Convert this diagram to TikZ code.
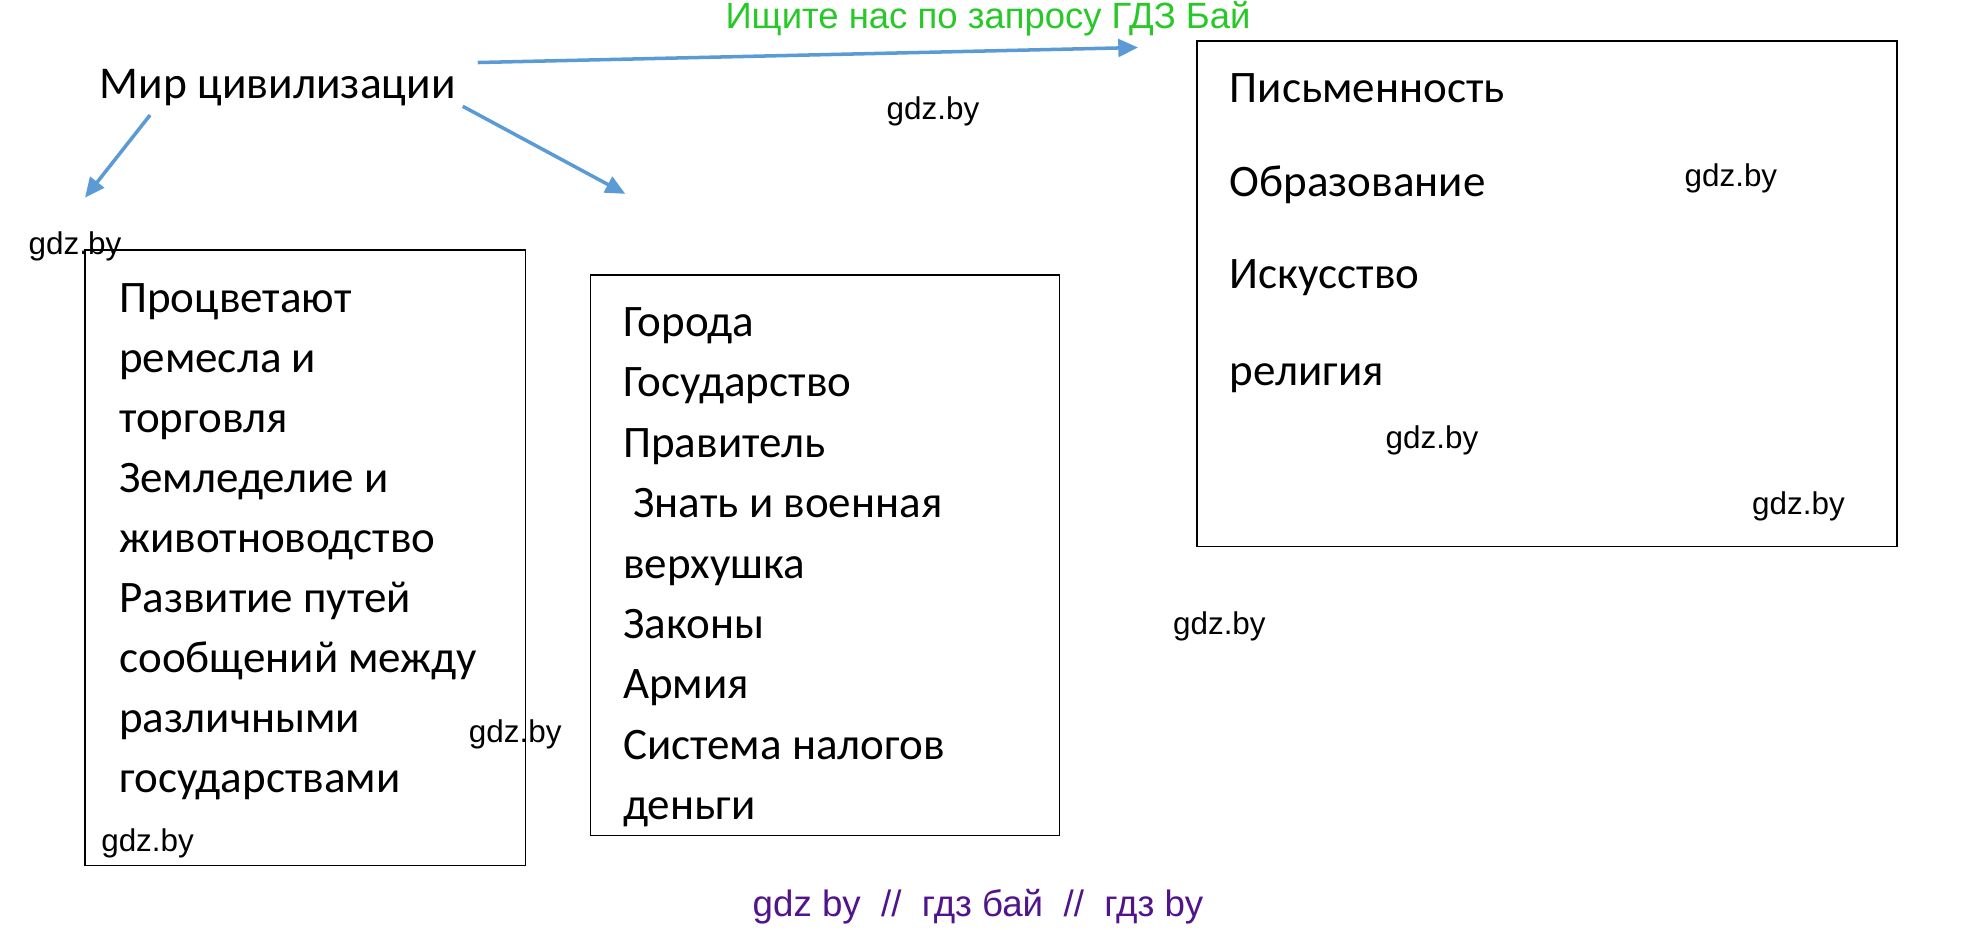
\documentclass[tikz,border=0pt]{standalone}
\usepackage{fontspec}
\setmainfont{Carlito}
\newfontfamily\wmfont{Liberation Sans}
\usetikzlibrary{arrows.meta}
\definecolor{arrowblue}{RGB}{91,155,213}
\definecolor{wmgreen}{RGB}{40,200,40}
\definecolor{wmpurple}{RGB}{80,20,140}
\tikzset{
  item/.style={anchor=base west, inner sep=0pt, font=\fontsize{20.5}{24}\selectfont},
  wm/.style={inner sep=0pt, font=\wmfont\fontsize{14.3}{17}\selectfont},
  arr/.style={arrowblue, line width=1.6pt, -{Triangle[length=9pt,width=8pt]}},
  box/.style={draw, line width=0.7pt}
}
\begin{document}
\begin{tikzpicture}[x=0.02cm, y=-0.02cm]
\useasboundingbox (0,0) rectangle (1568,743);

% title and arrows
\node[item, anchor=center, font=\fontsize{20.7}{24}\selectfont] (mir) at (222,70) {Мир цивилизации};
\coordinate (a1s) at (382,50);  \coordinate (a1e) at (910,38);
\coordinate (a2s) at (120,92);  \coordinate (a2e) at (68,158);
\coordinate (a3s) at (370,85);  \coordinate (a3e) at (500,155);
\draw[arr] (a1s) -- (a1e);
\draw[arr] (a2s) -- (a2e);
\draw[arr] (a3s) -- (a3e);

% boxes
\draw[box] (68,200) rectangle (420,692);
\draw[box] (472,220) rectangle (847,668);
\draw[box] (957,33) rectangle (1517,437);

% left box
\foreach \t [count=\i from 0] in {Процветают, ремесла и, торговля, Земледелие и,
  животноводство, Развитие путей, сообщений между, различными, государствами}
  \node[item] (l\i) at (95,250+48*\i) {\t};

% middle box
\foreach \t [count=\i from 0] in {Города, Государство, Правитель, \ Знать и военная,
  верхушка, Законы, Армия, Система налогов, деньги}
  \node[item] (m\i) at (498,269+48.3*\i) {\t};

% right box
\node[item] (r0) at (983,82) {Письменность};
\node[item] (r1) at (983,157) {Образование};
\node[item] (r2) at (983,231) {Искусство};
\node[item] (r3) at (983,308) {религия};

% watermarks
\node[wm, text=wmgreen, font=\wmfont\fontsize{16.6}{19}\selectfont] (top) at (790,15) {Ищите нас по запросу ГДЗ Бай};
\foreach \x/\y [count=\i] in {60/197, 746/89, 1384/143, 1145/352, 1438/405, 975/501, 412/587, 118/674}
  \node[wm] (g\i) at (\x,\y) {gdz.by};
\node[wm, text=wmpurple, font=\wmfont\fontsize{16.7}{19}\selectfont] (bottom) at (782,725) {gdz by\ \ //\ \ гдз бай\ \ //\ \ гдз by};

\end{tikzpicture}
\end{document}
